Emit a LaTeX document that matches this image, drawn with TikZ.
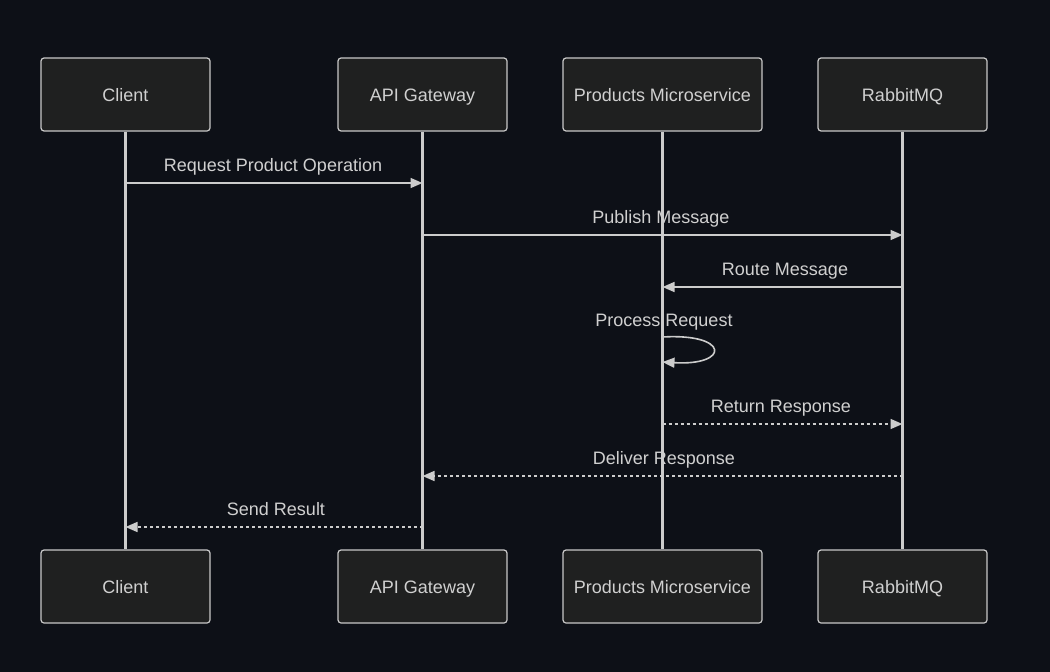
\documentclass[tikz,border=0pt]{standalone}
\usepackage{fontspec}
\setmainfont{Liberation Sans}
\usetikzlibrary{arrows.meta}
\definecolor{bg}{HTML}{0D1017}
\definecolor{boxfill}{HTML}{1F2020}
\definecolor{boxline}{HTML}{C8C8C8}
\definecolor{txt}{HTML}{D0D0D0}
\definecolor{ln}{HTML}{CCCCCC}
\begin{document}
\begin{tikzpicture}[x=1pt,y=-1pt,
  actor/.style={draw=boxline,fill=boxfill,line width=1.2pt,rounded corners=3pt,minimum height=73pt,text=txt,font=\fontsize{18}{21}\selectfont,inner sep=0pt,text height=14pt,text depth=1pt},
  life/.style={draw=ln,line width=2.2pt},
  msg/.style={draw=ln,line width=1.6pt,-{Triangle[length=12pt,width=10pt]}},
  reply/.style={msg,dash pattern=on 3pt off 3pt},
  lbl/.style={text=txt,font=\fontsize{18}{21}\selectfont,inner sep=0pt,anchor=base}]
\fill[bg] (0,0) rectangle (1050,672);
\useasboundingbox (0,0) rectangle (1050,672);
% top actors
\node[actor,minimum width=169pt] (ct) at (125.5,94.5) {Client};
\node[actor,minimum width=169pt] (gt) at (422.5,94.5) {API Gateway};
\node[actor,minimum width=199pt] (pt) at (662.5,94.5) {Products Microservice};
\node[actor,minimum width=169pt] (rt) at (902.5,94.5) {RabbitMQ};
% bottom actors
\node[actor,minimum width=169pt] (cb) at (125.5,586.5) {Client};
\node[actor,minimum width=169pt] (gb) at (422.5,586.5) {API Gateway};
\node[actor,minimum width=199pt] (pb) at (662.5,586.5) {Products Microservice};
\node[actor,minimum width=169pt] (rb) at (902.5,586.5) {RabbitMQ};
% lifelines
\draw[life] (ct.south) -- (cb.north);
\draw[life] (gt.south) -- (gb.north);
\draw[life] (pt.south) -- (pb.north);
\draw[life] (rt.south) -- (rb.north);
% message anchor coordinates
\coordinate (c1) at (125.5,183); \coordinate (g1) at (422.5,183);
\coordinate (g2) at (422.5,235); \coordinate (r2) at (902.5,235);
\coordinate (r3) at (902.5,287); \coordinate (p3) at (662.5,287);
\coordinate (p4a) at (662.5,337); \coordinate (p4b) at (662.5,362);
\coordinate (p5) at (662.5,424); \coordinate (r5) at (902.5,424);
\coordinate (r6) at (902.5,476); \coordinate (g6) at (422.5,476);
\coordinate (g7) at (422.5,527); \coordinate (c7) at (125.5,527);
% messages
\draw[msg] (c1) -- (g1);
\node[lbl] (l1) at (273,171) {Request Product Operation};
\draw[msg] (g2) -- (r2);
\node[lbl] (l2) at (661,223) {Publish Message};
\draw[msg] (r3) -- (p3);
\node[lbl] (l3) at (785,275) {Route Message};
\draw[msg] (p4a) .. controls (730,333) and (730,366) .. (p4b);
\node[lbl] (l4) at (664,326) {Process Request};
\draw[reply] (p5) -- (r5);
\node[lbl] (l5) at (781,412) {Return Response};
\draw[reply] (r6) -- (g6);
\node[lbl] (l6) at (664,464) {Deliver Response};
\draw[reply] (g7) -- (c7);
\node[lbl] (l7) at (276,515) {Send Result};
\end{tikzpicture}
\end{document}
